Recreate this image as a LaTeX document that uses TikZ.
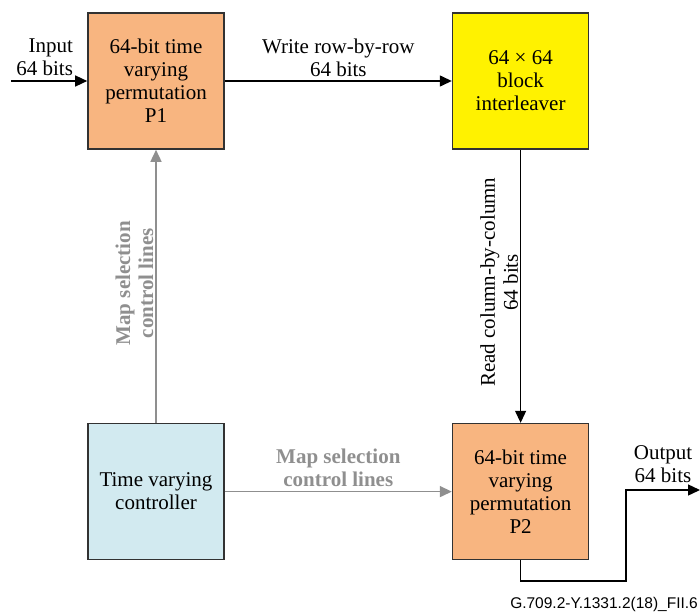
\documentclass[tikz,border=0pt]{standalone}
\usepackage{fontspec}
\setmainfont{Liberation Serif}
\newfontfamily\figfont{Liberation Sans}
\usepackage{tikz}
\usetikzlibrary{positioning,arrows.meta}

\definecolor{permorange}{RGB}{248,181,128}
\definecolor{ctrlblue}{RGB}{210,234,240}
\definecolor{mapgray}{RGB}{143,143,143}
\definecolor{boxedge}{RGB}{50,50,50}

\tikzset{
  block/.style={draw=boxedge, line width=1.6pt, minimum width=136pt, minimum height=136pt,
    inner sep=0pt, align=center, font=\rmfamily\fontsize{21}{23}\selectfont},
  lbl/.style={align=center, inner sep=2pt, font=\rmfamily\fontsize{21}{23}\selectfont},
  maplbl/.style={lbl, text=mapgray, font=\rmfamily\fontsize{21}{23}\selectfont\bfseries},
  flow/.style={line width=1.3pt, -{Triangle[length=12pt,width=11pt]}},
  ctrl/.style={flow, draw=mapgray, line width=1.5pt}
}

\begin{document}
\begin{tikzpicture}[x=1pt, y=-1pt]
    \useasboundingbox (0,0) rectangle (700,615);

    % Define nodes
    \node[block, fill=permorange]		(P1)	at (156,81)	{64-bit time\\varying\\permutation\\P1};
    \node[block, fill=yellow, right = 227pt of P1]		(ilv)		{64 × 64\\block\\interleaver};
    \node[block, fill=ctrlblue, below = 273pt of P1]		(tvc)		{Time varying\\controller};
    \node[block, fill=permorange, below = 273pt of ilv]		(P2)		{64-bit time\\varying\\permutation\\P2};
    \node[lbl, align=right, above left = 3pt and 12pt of P1.west]		(inlbl)		{Input\\64 bits};
    \coordinate[left = 76pt of P1.west]		(src);
    \coordinate		(turn)	at (626,581);
    \coordinate		(sink)	at (700,490);
    \node[font=\figfont\fontsize{15.5}{17}\selectfont, anchor=base east, inner sep=0pt]		(figid)	at (698,608)	{G.709.2-Y.1331.2(18)\_FII.6};

    % Connect nodes
    \draw[flow] (src) -- (P1);
    \draw[flow] (P1) -- node[lbl, above=2pt] {Write row-by-row\\64 bits} (ilv);
    \draw[flow] (ilv) -- node[lbl, rotate=90, above=4pt] {Read column-by-column\\64 bits} (P2);
    \draw[flow] (P2.south) |- (turn) |- node[lbl, above=5pt, pos=0.75] {Output\\64 bits} (sink);

    % control lines
    \draw[ctrl] (tvc) -- node[maplbl, rotate=90, above=3pt] {Map selection\\control lines} (P1);
    \draw[ctrl] (tvc) -- node[maplbl, above=2pt] {Map selection\\control lines} (P2);
\end{tikzpicture}
\end{document}
